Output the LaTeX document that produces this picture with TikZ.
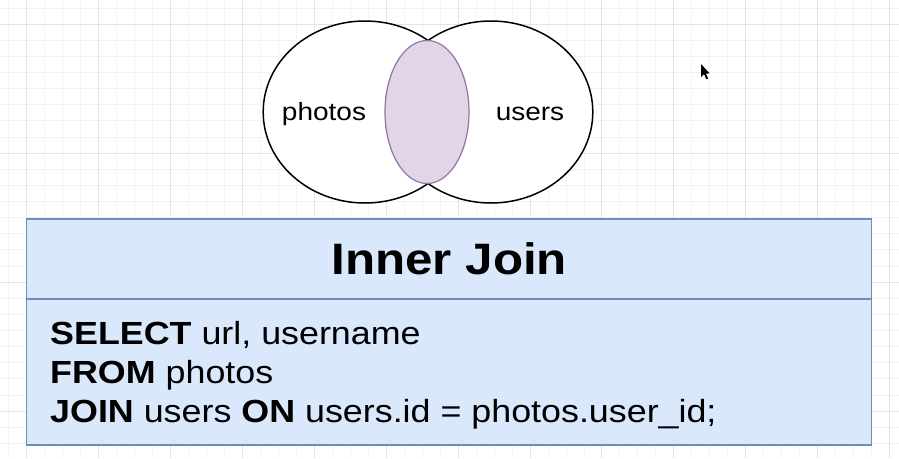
\documentclass[tikz,border=0pt]{standalone}
\usepackage{fontspec}
\setmainfont{Liberation Sans}
\usepackage{graphicx}
\usetikzlibrary{shapes.geometric}
\definecolor{boxfill}{HTML}{DAE8FC}
\definecolor{boxline}{HTML}{6C8EBF}
\definecolor{lensfill}{HTML}{E1D5E7}
\definecolor{lensline}{HTML}{9673A6}
\definecolor{gridminor}{HTML}{F3F3F3}
\definecolor{gridmajor}{HTML}{E4E4E4}
\newcommand{\stretchx}[1]{\scalebox{1.12}[1]{#1}}
\tikzset{
  minorgrid/.style={gridminor, line width=0.8pt},
  majorgrid/.style={gridmajor, line width=1pt},
  vennset/.style={ellipse, draw=black, fill=white, line width=1.5pt, inner sep=0pt,
                  minimum width=203.6pt, minimum height=182pt},
  lens/.style={ellipse, draw=lensline, fill=lensfill, line width=1.2pt, inner sep=0pt,
               minimum width=84pt, minimum height=143pt},
  setlabel/.style={anchor=base, inner sep=0pt, font=\fontsize{25}{30}\selectfont},
  panel/.style={rectangle, draw=boxline, fill=boxfill, line width=1.5pt, inner sep=0pt,
                minimum width=845pt},
  titletext/.style={inner sep=0pt, font=\fontsize{44}{52}\bfseries\selectfont},
  sqlline/.style={anchor=base west, inner sep=0pt, font=\fontsize{32}{38}\selectfont}
}
\begin{document}
\begin{tikzpicture}[x=1pt,y=-1pt]
\useasboundingbox (0,0) rectangle (899,458);
\fill[white] (0,0) rectangle (899,458);
% grid
\foreach \k in {0,...,50} \draw[minorgrid] ({8.7+17.975*\k},0) -- ++(0,458);
\foreach \k in {0,...,29} \draw[minorgrid] (0,{7.9+16.125*\k}) -- ++(899,0);
\foreach \k in {0,...,12} \draw[majorgrid] ({26.7+71.9*\k},0) -- ++(0,458);
\foreach \k in {0,...,3} \draw[majorgrid] (0,{24+129*\k}) -- ++(899,0);
% venn
\node[vennset] (photosset) at (365,112) {};
\node[vennset] (usersset) at (491,112) {};
\node[lens] (common) at (427,112) {};
\node[setlabel] (photoslbl) at (324,120) {\stretchx{photos}};
\node[setlabel] (userslbl) at (530,120) {\stretchx{users}};
% panel
\node[panel, minimum height=80pt] (head) at (449.2,259) {};
\node[panel, minimum height=146pt] (body) at (449.2,372) {};
\node[titletext] (title) at (head.center) {\stretchx{Inner Join}};
\node[sqlline] (l1) at (50,344) {\stretchx{\textbf{SELECT} url, username}};
\node[sqlline] (l2) at (50,383) {\stretchx{\textbf{FROM} photos}};
\node[sqlline] (l3) at (50,422) {\stretchx{\textbf{JOIN} users \textbf{ON} users.id = photos.user\_id;}};
% mouse pointer
\fill[black] (701,64) -- (701,77) -- (704,74.2) -- (706.4,79.2) -- (708.2,78.4) -- (705.9,73.6) -- (709.6,73.4) -- cycle;
\end{tikzpicture}
\end{document}
